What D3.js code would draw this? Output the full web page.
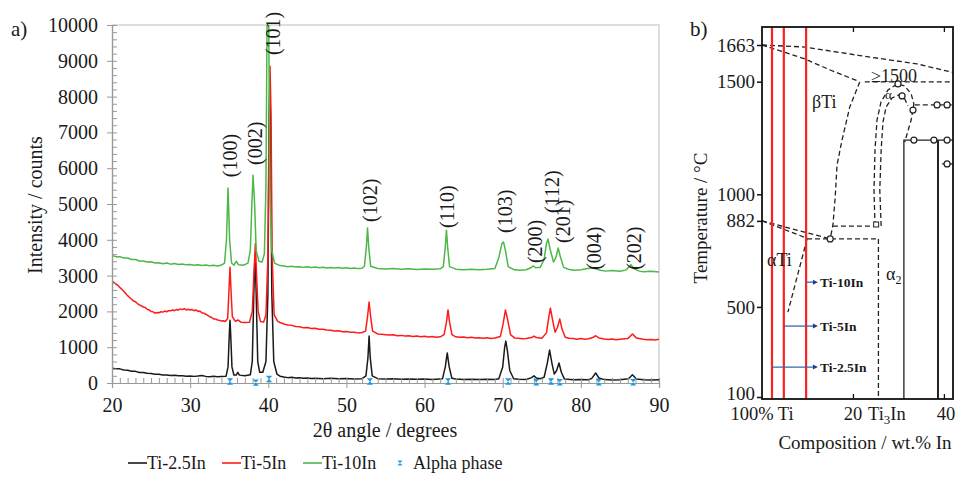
<!DOCTYPE html>
<html>
<head>
<meta charset="utf-8">
<script src="https://cdn.jsdelivr.net/npm/d3@7"></script>
<style>
body { margin: 0; background: #fff; }
svg text { font-family: "Liberation Serif", "Times New Roman", serif; fill: #1a1a1a; }
</style>
</head>
<body>
<svg width="957" height="481"></svg>
<script>
// ---- data: panel a (XRD), [2theta, counts]
var ti25 = [[20,420],[20.5,395],[21,395],[21.5,365],[22,355],[22.5,330],[23,325],[23.5,295],[24,295],[24.5,270],[25,265],[25.5,245],[26,245],[26.5,225],[27,225],[27.5,210],[28,215],[28.5,200],[29,205],[29.5,190],[30,198],[30.5,185],[31,195],[31.5,210],[32,185],[32.5,178],[33,186],[33.5,175],[34,182],[34.6,190],[34.85,450],[35,1300],[35.1,1750],[35.2,1300],[35.35,450],[35.6,220],[35.9,220],[36.1,300],[36.3,220],[37,200],[37.7,230],[37.95,600],[38.15,2500],[38.3,3600],[38.45,2500],[38.65,600],[38.9,300],[39.3,300],[39.7,600],[39.95,2500],[40.1,7000],[40.2,8500],[40.3,7000],[40.45,2500],[40.7,600],[41.1,250],[41.5,190],[42,165],[42.5,150],[43,158],[43.5,140],[44,148],[44.5,132],[45,140],[45.5,126],[46,135],[47,122],[48,130],[49,118],[50,126],[51,115],[52,122],[52.5,200],[52.75,700],[52.9,1310],[53.05,700],[53.3,200],[54,120],[55,112],[56,118],[57,106],[58,114],[59,102],[60,110],[61,100],[62.3,120],[62.65,450],[62.9,840],[63.15,450],[63.5,130],[64,110],[65,100],[66,108],[67,96],[68,104],[69,100],[69.5,120],[70,450],[70.25,1000],[70.4,1170],[70.6,900],[70.9,350],[71.4,120],[72,102],[73,96],[73.7,150],[74,200],[74.3,140],[74.8,120],[75.3,160],[75.7,550],[76,920],[76.3,550],[76.6,250],[76.9,350],[77.2,560],[77.5,300],[77.9,110],[79,92],[80,100],[81,92],[81.4,130],[81.9,280],[82.3,140],[83,95],[84,86],[85,94],[86.1,120],[86.6,230],[87.1,110],[88,90],[89,84],[90,90]];

var ti5 = [[20,2850],[20.25,2810],[20.5,2760],[20.75,2730],[21,2670],[21.25,2620],[21.5,2560],[21.75,2500],[22,2440],[22.25,2390],[22.5,2340],[22.75,2290],[23,2270],[23.25,2220],[23.5,2180],[23.75,2160],[24,2120],[24.25,2110],[24.5,2060],[24.75,2040],[25,2000],[25.25,1990],[25.5,1950],[25.75,1970],[26,1960],[26.25,1990],[26.5,1980],[26.75,2010],[27,1990],[27.25,2020],[27.5,2020],[27.75,2040],[28,2020],[28.25,2050],[28.5,2040],[28.75,2070],[29,2050],[29.25,2080],[29.5,2040],[29.75,2060],[30,2040],[30.25,2050],[30.5,2020],[30.75,2040],[31,2000],[31.25,2010],[31.5,1960],[31.75,1950],[32,1920],[32.25,1890],[32.5,1850],[32.75,1830],[33,1790],[33.25,1790],[33.5,1760],[33.75,1750],[34,1730],[34.25,1740],[34.5,1720],[34.8,1800],[34.95,2500],[35.1,3230],[35.25,2500],[35.4,1850],[35.8,1720],[36.1,1760],[36.5,1700],[37,1690],[37.6,1700],[37.95,2000],[38.15,3000],[38.35,3900],[38.5,3000],[38.7,2000],[39,1720],[39.4,1700],[39.7,1900],[39.95,3500],[40.1,7500],[40.22,8850],[40.35,7500],[40.5,3500],[40.75,1900],[41.2,1720],[41.5,1690],[42,1650],[42.5,1620],[43,1610],[43.5,1580],[44,1570],[44.5,1540],[45,1550],[45.5,1520],[46,1530],[46.5,1500],[47,1500],[47.5,1480],[48,1475],[48.5,1450],[49,1460],[49.5,1430],[50,1440],[50.5,1420],[51,1420],[51.5,1400],[52,1410],[52.45,1450],[52.7,1850],[52.9,2260],[53.1,1850],[53.35,1450],[54,1370],[54.5,1360],[55,1350],[55.5,1340],[56,1350],[56.5,1320],[57,1330],[57.5,1310],[58,1320],[58.5,1300],[59,1310],[59.5,1290],[60,1305],[60.5,1285],[61,1300],[61.5,1280],[62,1290],[62.5,1350],[62.8,1700],[63,2040],[63.2,1700],[63.5,1350],[64,1290],[64.5,1275],[65,1285],[65.5,1265],[66,1275],[66.5,1255],[67,1265],[67.5,1250],[68,1265],[68.5,1245],[69,1255],[69.7,1300],[70.05,1650],[70.35,2040],[70.65,1750],[71,1350],[71.5,1260],[72,1250],[72.5,1235],[73,1245],[73.7,1270],[74,1310],[74.3,1270],[75,1250],[75.6,1400],[75.9,1850],[76.1,2090],[76.35,1800],[76.7,1420],[77,1550],[77.3,1790],[77.6,1500],[78,1280],[78.5,1250],[79,1240],[79.5,1225],[80,1240],[80.5,1220],[81,1235],[81.5,1270],[81.9,1320],[82.3,1260],[83,1230],[83.5,1215],[84,1228],[84.5,1210],[85,1225],[86,1240],[86.6,1370],[87.1,1260],[88,1220],[88.5,1205],[89,1215],[89.5,1200],[90,1220]];

var ti10 = [[20,3560],[20.5,3530],[21,3530],[21.5,3490],[22,3490],[22.5,3450],[23,3450],[23.5,3410],[24,3410],[24.5,3380],[25,3385],[25.5,3350],[26,3360],[26.5,3330],[27,3350],[27.5,3320],[28,3340],[28.5,3310],[29,3325],[29.5,3300],[30,3310],[30.5,3290],[31,3305],[31.5,3280],[32,3295],[32.5,3275],[33,3290],[33.5,3270],[34,3295],[34.4,3350],[34.65,4000],[34.85,5450],[35.05,4000],[35.3,3350],[35.6,3290],[35.9,3400],[36.2,3300],[36.8,3290],[37.4,3350],[37.7,3700],[37.9,5000],[38.05,5800],[38.25,5000],[38.45,3700],[38.8,3400],[39.2,3380],[39.5,3600],[39.7,5500],[39.85,10300],[40.05,10300],[40.2,5500],[40.45,3700],[40.8,3350],[41.5,3280],[42,3265],[42.5,3250],[43,3260],[43.5,3240],[44,3250],[44.5,3230],[45,3245],[45.5,3225],[46,3240],[46.5,3220],[47,3235],[47.5,3215],[48,3228],[48.5,3210],[49,3225],[49.5,3205],[50,3220],[50.5,3200],[51,3215],[51.5,3195],[52,3205],[52.3,3260],[52.55,3800],[52.7,4330],[52.85,3800],[53.1,3260],[54,3200],[55,3185],[56,3198],[57,3178],[58,3190],[59,3172],[60,3186],[61,3175],[62,3190],[62.4,3250],[62.65,3800],[62.8,4270],[62.95,3800],[63.2,3250],[64,3180],[65,3165],[66,3178],[67,3160],[68,3175],[69,3200],[69.5,3500],[69.9,3900],[70.1,3940],[70.35,3700],[70.7,3250],[71.5,3160],[72.2,3148],[73,3162],[73.6,3220],[73.9,3270],[74.2,3220],[74.8,3230],[75.3,3450],[75.6,3900],[75.8,4020],[76.05,3750],[76.5,3380],[76.8,3500],[77.1,3770],[77.35,3550],[77.8,3230],[78.5,3170],[79.2,3150],[80,3165],[80.7,3190],[81.3,3210],[81.9,3190],[82.5,3150],[83.2,3125],[84,3140],[85,3122],[85.8,3160],[86.4,3300],[86.9,3180],[87.5,3125],[88,3110],[89,3120],[90,3100]];

var alphaPos = [35.1, 38.4, 40.1, 53.0, 63.0, 70.7, 74.3, 76.2, 77.3, 82.3, 86.7];
var alphaVal = [40, 10, 110, 40, 40, 40, 20, 40, 20, 20, 20];

var peakNames = ["(100)","(002)","(101)","(102)","(110)","(103)","(200)","(112)","(201)","(004)","(202)"];
var peakPos   = [35.1, 38.3, 40.6, 53.0, 62.9, 70.3, 74.1, 76.3, 77.7, 81.7, 86.8];
var peakLab   = [5750, 6090, 9160, 4500, 4330, 4190, 3350, 4750, 3910, 3160, 3160];

var yTicksA = [0,1000,2000,3000,4000,5000,6000,7000,8000,9000,10000];
var xTicksA = [20,30,40,50,60,70,80,90];

var seriesNames = ["Ti-2.5In","Ti-5In","Ti-10In"];
var seriesColors = ["#1a1a1a","#ff1a1a","#4cb848"];

// ---- data: panel b (phase diagram), [wt.% In, T in C]
var tTicks = [100, 500, 882, 1000, 1500, 1663];
var redComp = [2.2, 4.8, 9.7];
var liquidus = [[0,1663],[9.45,1654],[21.5,1616],[34.1,1579],[42,1541]];
var solidus = [[0,1663],[9.45,1601],[15,1552],[21.1,1503]];
var line1500 = [[22.6,1499],[42,1499]];
var betaTransus = [[21.5,1499],[19.3,1388],[17.6,1241],[16.5,1130],[16.1,988],[15.6,864],[15,802]];
var eut859 = [[15.6,859],[25.1,859]];
var eut802 = [[9.9,802],[25.7,802]];
var from882a = [[0,882],[9.9,805]];
var from882b = [[0,882],[15,802]];
var alphaTransus = [[9.9,802],[5.7,477]];
var ti3inLine = [[25.6,802],[25.6,91]];
var domeOuter = [[24.85,859],[24.63,1019],[24.85,1197],[25.29,1330],[26.17,1410],[27.7,1463],[29.7,1490],[31.4,1481],[32.8,1446],[33.4,1401],[32.8,1330],[31.9,1268],[31.4,1232]];
var domeInner = [[26.2,859],[25.9,1019],[26.2,1197],[26.6,1321],[27.3,1388],[28.6,1428],[30.1,1441],[31.4,1423],[32.1,1392]];
var dash1397 = [[33.6,1397],[42,1397]];
var solidA = [[31.2,91],[31.2,1241],[42,1241]];
var solidB = [[38.7,91],[38.7,1241]];
var solidC = [[39.6,1135],[42,1135]];
var circles = [[15,802],[29.9,1490],[30.8,1437],[33.2,1374],[38.5,1397],[40.7,1397],[33.4,1241],[37.8,1241],[40.7,1241],[40.7,1135]];
var squares = [[25.1,866]];
var arrowNames = ["Ti-10In","Ti-5In","Ti-2.5In"];
var arrowFrom = [9.7, 4.8, 2.2];
var arrowT = [610, 415, 233];

var svg = d3.select("svg");

// ================= panel a =================
var x = d3.scaleLinear().domain([20,90]).range([112,659]);
var y = d3.scaleLinear().domain([0,10000]).range([383,25]);

svg.append("defs").append("clipPath").attr("id","clipA")
  .append("rect").attr("x",112).attr("y",25).attr("width",547).attr("height",358);

// frame top/right
svg.append("path")
  .attr("d","M112,25H659V383")
  .attr("fill","none").attr("stroke","#d4d4d4").attr("stroke-width",1.5);

var line = d3.line().x(function(d){ return x(d[0]); }).y(function(d){ return y(d[1]); });
var plotA = svg.append("g").attr("clip-path","url(#clipA)");
[ti25, ti5, ti10].forEach(function(s, i){
  plotA.append("path").datum(s)
    .attr("d", line)
    .attr("fill","none")
    .attr("stroke", seriesColors[i])
    .attr("stroke-width",1.5)
    .attr("stroke-linejoin","round");
});

// axes
function styleAxis(g){
  g.select(".domain").attr("stroke","#999").attr("stroke-width",1.2);
  g.selectAll(".tick line").attr("stroke","#999");
  g.selectAll(".tick text").attr("fill","#1a1a1a")
    .style("font-family","Liberation Serif").style("font-size","20px");
}
var minorY = d3.range(0,10001,200);
var minorX = d3.range(20,91,1);
svg.append("g").attr("transform","translate(112,0)")
  .call(d3.axisRight(y).tickValues(minorY).tickSize(5).tickFormat(""))
  .call(styleAxis);
svg.append("g").attr("transform","translate(112,0)")
  .call(d3.axisLeft(y).tickValues(yTicksA).tickSize(5).tickPadding(9).tickFormat(d3.format("d")))
  .call(styleAxis);
svg.append("g").attr("transform","translate(0,383)")
  .call(d3.axisTop(x).tickValues(minorX).tickSize(5).tickFormat(""))
  .call(styleAxis);
svg.append("g").attr("transform","translate(0,383)")
  .call(d3.axisBottom(x).tickValues(xTicksA).tickSize(5).tickPadding(10))
  .call(styleAxis);

// alpha markers
var bow = "M-3.2,-3.2L3.2,-3.2L-3.2,3.2L3.2,3.2Z";
svg.append("g").selectAll("path").data(alphaPos).join("path")
  .attr("transform", function(d,i){ return "translate(" + x(d) + "," + y(alphaVal[i]) + ")"; })
  .attr("d", bow).attr("fill","#1d9be2");

// peak labels
svg.append("g").selectAll("text").data(peakNames).join("text")
  .attr("transform", function(d,i){ return "translate(" + x(peakPos[i]) + "," + y(peakLab[i]) + ") rotate(-90)"; })
  .attr("dy","0.35em")
  .style("font-size","20px")
  .text(function(d){ return d; });

svg.append("text").attr("x",11).attr("y",36).style("font-size","21px").text("a)");
svg.append("text").attr("transform","translate(42,205) rotate(-90)")
  .attr("text-anchor","middle").style("font-size","20px").text("Intensity / counts");
svg.append("text").attr("x",385).attr("y",437)
  .attr("text-anchor","middle").style("font-size","20px").text("2θ angle / degrees");

// legend
var legX = [128, 222, 303];
seriesNames.forEach(function(n, i){
  svg.append("line").attr("x1",legX[i]).attr("x2",legX[i]+19).attr("y1",463).attr("y2",463)
    .attr("stroke",seriesColors[i]).attr("stroke-width",1.6);
  svg.append("text").attr("x",legX[i]+19).attr("y",469).style("font-size","18px").text(n);
});
svg.append("path").attr("transform","translate(400,463)").attr("d","M-2.6,-2.6L2.6,-2.6L-2.6,2.6L2.6,2.6Z").attr("fill","#1d9be2");
svg.append("text").attr("x",413).attr("y",469).style("font-size","18px").text("Alpha phase");

// ================= panel b =================
var bx = d3.scaleLinear().domain([0,42]).range([762,953]);
var by = d3.scaleLinear().domain([100,1663]).range([397,45]);
var bline = d3.line().x(function(d){ return bx(d[0]); }).y(function(d){ return by(d[1]); });

svg.append("defs").append("clipPath").attr("id","clipB")
  .append("rect").attr("x",762).attr("y",27).attr("width",191).attr("height",372);
var plotB = svg.append("g").attr("clip-path","url(#clipB)");

[liquidus, solidus, line1500, betaTransus, eut859, eut802, from882a, from882b, alphaTransus, ti3inLine, domeOuter, domeInner, dash1397].forEach(function(s){
  plotB.append("path").datum(s).attr("d", bline)
    .attr("fill","none").attr("stroke","#222").attr("stroke-width",1.3)
    .attr("stroke-dasharray","5,3");
});
[solidA, solidC].forEach(function(s){
  plotB.append("path").datum(s).attr("d", bline)
    .attr("fill","none").attr("stroke","#222").attr("stroke-width",1.3);
});
plotB.append("path").datum(solidB).attr("d", bline)
  .attr("fill","none").attr("stroke","#222").attr("stroke-width",2);

plotB.selectAll("circle").data(circles).join("circle")
  .attr("cx", function(d){ return bx(d[0]); }).attr("cy", function(d){ return by(d[1]); })
  .attr("r",3).attr("fill","#fff").attr("stroke","#222").attr("stroke-width",1.2);
plotB.selectAll("rect.sq").data(squares).join("rect").attr("class","sq")
  .attr("x", function(d){ return bx(d[0])-2.5; }).attr("y", function(d){ return by(d[1])-2.5; })
  .attr("width",5).attr("height",5).attr("fill","#fff").attr("stroke","#222");

// red composition lines
plotB.selectAll("line.red").data(redComp).join("line").attr("class","red")
  .attr("x1", function(d){ return bx(d); }).attr("x2", function(d){ return bx(d); })
  .attr("y1",27).attr("y2",399)
  .attr("stroke","#ff2020").attr("stroke-width",2.2);

// arrows
var arrowEnd = 12.3;
arrowNames.forEach(function(n, i){
  var yy = by(arrowT[i]);
  svg.append("line").attr("x1",bx(arrowFrom[i])).attr("x2",bx(arrowEnd)-3).attr("y1",yy).attr("y2",yy)
    .attr("stroke","#3866b0").attr("stroke-width",1.3);
  svg.append("path").attr("d","M" + bx(arrowEnd) + "," + yy + "l-5,-2.5v5z").attr("fill","#1f3f8f");
  svg.append("text").attr("x",bx(arrowEnd)+2).attr("y",yy+4.5)
    .style("font-size","13.5px").style("font-weight","bold").text(n);
});

// labels inside
svg.append("text").attr("x",812).attr("y",108).style("font-size","18px").text("βTi");
svg.append("text").attr("x",767).attr("y",266).style("font-size","18px").text("αTi");
svg.append("text").attr("x",886).attr("y",280).style("font-size","18px").text("α")
  .append("tspan").attr("dy",4).style("font-size","12px").text("2");
svg.append("text").attr("x",885).attr("y",99).style("font-size","13px").text("α");
svg.append("text").attr("x",871).attr("y",82).style("font-size","18px").text("≥1500");

// frame & axes b
svg.append("rect").attr("x",762).attr("y",27).attr("width",191).attr("height",372)
  .attr("fill","none").attr("stroke","#111").attr("stroke-width",1.8);
var axL = svg.append("g").attr("transform","translate(762,0)")
  .call(d3.axisLeft(by).tickValues(tTicks).tickSize(5).tickPadding(2).tickFormat(d3.format("d")));
axL.select(".domain").remove();
axL.selectAll(".tick line").attr("stroke","#111").attr("stroke-width",1.5);
axL.selectAll(".tick text").style("font-family","Liberation Serif").style("font-size","19px").attr("fill","#1a1a1a");
axL.selectAll(".tick text").filter(function(d){ return d === 100; }).attr("dy","0.15em");

var axB = svg.append("g").attr("transform","translate(0,399)")
  .call(d3.axisTop(bx).tickValues([20,40]).tickSize(5).tickFormat(""));
axB.select(".domain").remove();
axB.selectAll(".tick line").attr("stroke","#111").attr("stroke-width",1.3);
var axT = svg.append("g").attr("transform","translate(0,27)")
  .call(d3.axisBottom(bx).tickValues([20,40]).tickSize(5).tickFormat(""));
axT.select(".domain").remove();
axT.selectAll(".tick line").attr("stroke","#111").attr("stroke-width",1.3);

svg.append("text").attr("x",bx(0)).attr("y",420).attr("text-anchor","middle").style("font-size","18.5px").text("100% Ti");
svg.append("text").attr("x",bx(20)).attr("y",420).attr("text-anchor","middle").style("font-size","18.5px").text("20");
svg.append("text").attr("x",868).attr("y",420).style("font-size","18.5px").text("Ti")
  .append("tspan").attr("dy",4).style("font-size","13px").text("3")
  .select(function(){ return this.parentNode; })
  .append("tspan").attr("dy",-4).text("In");
svg.append("text").attr("x",bx(40)+2).attr("y",420).attr("text-anchor","middle").style("font-size","18.5px").text("40");
svg.append("text").attr("x",865).attr("y",449).attr("text-anchor","middle").style("font-size","19px").text("Composition / wt.% In");
svg.append("text").attr("x",690).attr("y",36).style("font-size","21px").text("b)");
svg.append("text").attr("transform","translate(707,218) rotate(-90)")
  .attr("text-anchor","middle").style("font-size","19px").text("Temperature / °C");
</script>
</body>
</html>
